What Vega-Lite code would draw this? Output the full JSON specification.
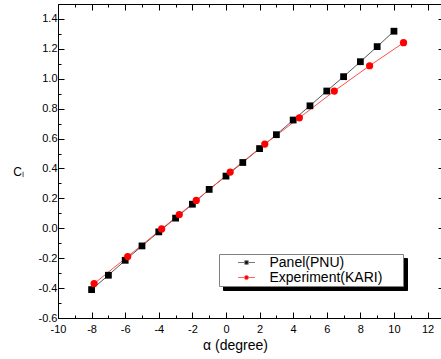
{
  "$schema": "https://vega.github.io/schema/vega-lite/v6.json",
  "width": 383,
  "height": 314,
  "autosize": "none",
  "padding": {"left": 58, "top": 4, "right": 0, "bottom": 41},
  "background": "white",
  "config": {
    "view": {"stroke": null},
    "font": "Liberation Sans",
    "axis": {
      "labelFont": "Liberation Sans",
      "titleFont": "Liberation Sans",
      "domainColor": "black",
      "tickColor": "black",
      "labelColor": "black",
      "titleColor": "black",
      "grid": false,
      "titleFontWeight": "normal",
      "labelFontSize": 11,
      "domainWidth": 1,
      "tickWidth": 1
    },
    "legend": {
      "labelFont": "Liberation Sans",
      "labelFontSize": 14,
      "labelColor": "black",
      "symbolStrokeWidth": 1
    }
  },
  "data": {
    "values": [
      {"series": "Panel(PNU)", "alpha": -8, "cl": -0.41},
      {"series": "Panel(PNU)", "alpha": -7, "cl": -0.314},
      {"series": "Panel(PNU)", "alpha": -6, "cl": -0.214},
      {"series": "Panel(PNU)", "alpha": -5, "cl": -0.118},
      {"series": "Panel(PNU)", "alpha": -4, "cl": -0.024},
      {"series": "Panel(PNU)", "alpha": -3, "cl": 0.068},
      {"series": "Panel(PNU)", "alpha": -2, "cl": 0.161},
      {"series": "Panel(PNU)", "alpha": -1, "cl": 0.26},
      {"series": "Panel(PNU)", "alpha": 0, "cl": 0.349},
      {"series": "Panel(PNU)", "alpha": 1, "cl": 0.44},
      {"series": "Panel(PNU)", "alpha": 2, "cl": 0.533},
      {"series": "Panel(PNU)", "alpha": 3, "cl": 0.626},
      {"series": "Panel(PNU)", "alpha": 4, "cl": 0.724},
      {"series": "Panel(PNU)", "alpha": 5, "cl": 0.819},
      {"series": "Panel(PNU)", "alpha": 6, "cl": 0.918},
      {"series": "Panel(PNU)", "alpha": 7, "cl": 1.014},
      {"series": "Panel(PNU)", "alpha": 8, "cl": 1.114},
      {"series": "Panel(PNU)", "alpha": 9, "cl": 1.215},
      {"series": "Panel(PNU)", "alpha": 10, "cl": 1.318},
      {"series": "Experiment(KARI)", "alpha": -7.85, "cl": -0.37},
      {"series": "Experiment(KARI)", "alpha": -5.85, "cl": -0.189},
      {"series": "Experiment(KARI)", "alpha": -3.83, "cl": -0.004},
      {"series": "Experiment(KARI)", "alpha": -2.78, "cl": 0.092},
      {"series": "Experiment(KARI)", "alpha": -1.77, "cl": 0.186},
      {"series": "Experiment(KARI)", "alpha": 0.25, "cl": 0.376},
      {"series": "Experiment(KARI)", "alpha": 2.31, "cl": 0.563},
      {"series": "Experiment(KARI)", "alpha": 4.37, "cl": 0.739},
      {"series": "Experiment(KARI)", "alpha": 6.45, "cl": 0.918},
      {"series": "Experiment(KARI)", "alpha": 8.55, "cl": 1.087},
      {"series": "Experiment(KARI)", "alpha": 10.57, "cl": 1.241}
    ]
  },
  "resolve": {
    "axis": {"x": "independent", "y": "independent"},
    "scale": {"fill": "independent", "shape": "independent", "stroke": "independent"}
  },
  "layer": [
    {
      "mark": {"type": "line", "strokeWidth": 1},
      "encoding": {
        "x": {
          "field": "alpha", "type": "quantitative",
          "scale": {"domain": [-10, 12.8], "nice": false, "zero": false},
          "axis": {
            "orient": "bottom",
            "values": [-10,-9,-8,-7,-6,-5,-4,-3,-2,-1,0,1,2,3,4,5,6,7,8,9,10,11,12],
            "labelExpr": "datum.value % 2 === 0 ? replace(format(datum.value, 'd'), '−', '-') : ''",
            "tickSize": {"condition": {"test": "datum.value % 2 === 0", "value": -6}, "value": -3},
            "labelPadding": 11,
            "labelFlush": false,
            "labelOverlap": false,
            "title": "α (degree)",
            "titleFontSize": 14,
            "titleX": 177,
            "titleY": 31,
            "titleAlign": "center",
            "titleBaseline": "alphabetic"
          }
        },
        "y": {
          "field": "cl", "type": "quantitative", "title": "Cₗ",
          "scale": {"domain": [-0.6, 1.5], "nice": false, "zero": false},
          "axis": {
            "orient": "left",
            "values": [-0.6,-0.5,-0.4,-0.3,-0.2,-0.1,0,0.1,0.2,0.3,0.4,0.5,0.6,0.7,0.8,0.9,1.0,1.1,1.2,1.3,1.4,1.5],
            "labelExpr": "round(datum.value*10) % 2 == 0 ? replace(format(datum.value, '.1f'), '−', '-') : ''",
            "tickSize": {"condition": {"test": "round(datum.value*10) % 2 == 0", "value": -6}, "value": -3},
            "labelPadding": 7,
            "labelFlush": false,
            "labelOverlap": false,
            "titleAngle": 0,
            "titleFontSize": 12,
            "titleX": -40,
            "titleY": 167,
            "titleAlign": "center",
            "titleBaseline": "middle"
          }
        },
        "stroke": {
          "field": "series", "type": "nominal",
          "scale": {"domain": ["Panel(PNU)", "Experiment(KARI)"], "range": ["#555555", "#ff4d4d"]},
          "legend": null
        }
      }
    },
    {
      "mark": {"type": "point", "filled": true, "opacity": 1, "strokeWidth": 0},
      "encoding": {
        "x": {
          "field": "alpha", "type": "quantitative",
          "axis": {
            "orient": "top",
            "values": [-10,-9,-8,-7,-6,-5,-4,-3,-2,-1,0,1,2,3,4,5,6,7,8,9,10,11,12],
            "labels": false,
            "tickSize": {"condition": {"test": "datum.value % 2 === 0", "value": -6}, "value": -3},
            "title": null
          }
        },
        "y": {
          "field": "cl", "type": "quantitative",
          "axis": {
            "orient": "right",
            "values": [-0.6,-0.4,-0.2,0,0.2,0.4,0.6,0.8,1.0,1.2,1.4],
            "labels": false,
            "domain": false,
            "tickSize": -3,
            "title": null
          }
        },
        "fill": {
          "field": "series", "type": "nominal",
          "scale": {"domain": ["Panel(PNU)", "Experiment(KARI)"], "range": ["black", "#ff0000"]},
          "legend": null
        },
        "shape": {
          "field": "series", "type": "nominal",
          "scale": {"domain": ["Panel(PNU)", "Experiment(KARI)"], "range": ["square", "circle"]},
          "legend": null
        },
        "size": {
          "field": "series", "type": "nominal",
          "scale": {"domain": ["Panel(PNU)", "Experiment(KARI)"], "range": [46, 52]},
          "legend": null
        }
      }
    },
    {
      "transform": [{"filter": "false"}],
      "mark": {"type": "point", "filled": true, "opacity": 1, "size": 289},
      "encoding": {
        "x": {"field": "alpha", "type": "quantitative", "axis": null},
        "y": {"field": "cl", "type": "quantitative", "axis": null},
        "fill": {
          "field": "series", "type": "nominal",
          "scale": {"domain": ["Panel(PNU)", "Experiment(KARI)"], "range": ["black", "#ff0000"]},
          "legend": {
            "orient": "none", "legendX": 161, "legendY": 250, "title": " ", "titleOrient": "right", "titlePadding": 19,
            "fillColor": "white", "strokeColor": "#808080", "padding": 1.5, "rowPadding": 1,
            "symbolOffset": 19, "labelOffset": 16, "zindex": 3
          }
        },
        "stroke": {
          "field": "series", "type": "nominal",
          "scale": {"domain": ["Panel(PNU)", "Experiment(KARI)"], "range": ["#777777", "#ff6666"]},
          "legend": {
            "orient": "none", "legendX": 161, "legendY": 250, "title": " ", "titleOrient": "right", "titlePadding": 19,
            "fillColor": "white", "strokeColor": "#808080", "padding": 1.5, "rowPadding": 1,
            "symbolOffset": 19, "labelOffset": 16, "zindex": 3
          }
        },
        "shape": {
          "field": "series", "type": "nominal",
          "scale": {
            "domain": ["Panel(PNU)", "Experiment(KARI)"],
            "range": [
              "M-1.7,0H-0.47M0.47,0H1.7M-0.35,-0.35H0.35V0.35H-0.35Z",
              "M-1.7,0H-0.5M0.5,0H1.7M-0.42,0A0.42,0.42 0 1,0 0.42,0A0.42,0.42 0 1,0 -0.42,0Z"
            ]
          },
          "legend": {
            "orient": "none", "legendX": 161, "legendY": 250, "title": " ", "titleOrient": "right", "titlePadding": 19,
            "fillColor": "white", "strokeColor": "#808080", "padding": 1.5, "rowPadding": 1,
            "symbolOffset": 19, "labelOffset": 16, "zindex": 3
          }
        }
      }
    },
    {
      "transform": [{"filter": "false"}],
      "mark": {"type": "point", "filled": true, "opacity": 1, "size": 289, "color": "black"},
      "encoding": {
        "x": {"field": "alpha", "type": "quantitative", "axis": null},
        "y": {"field": "cl", "type": "quantitative", "axis": null},
        "shape": {
          "field": "series", "type": "nominal",
          "scale": {
            "domain": ["Panel(PNU)", "Experiment(KARI)"],
            "range": [
              "M-1.7,0H-0.47M0.47,0H1.7M-0.35,-0.35H0.35V0.35H-0.35Z",
              "M-1.7,0H-0.5M0.5,0H1.7M-0.42,0A0.42,0.42 0 1,0 0.42,0A0.42,0.42 0 1,0 -0.42,0Z"
            ]
          },
          "legend": {
            "orient": "none", "legendX": 165, "legendY": 254, "title": " ", "titleOrient": "right", "titlePadding": 19,
            "fillColor": "black", "strokeColor": "black", "padding": 1.5, "rowPadding": 1,
            "symbolOffset": 19, "labelOffset": 16, "zindex": 2,
            "labelColor": "black"
          }
        }
      }
    }
  ]
}
